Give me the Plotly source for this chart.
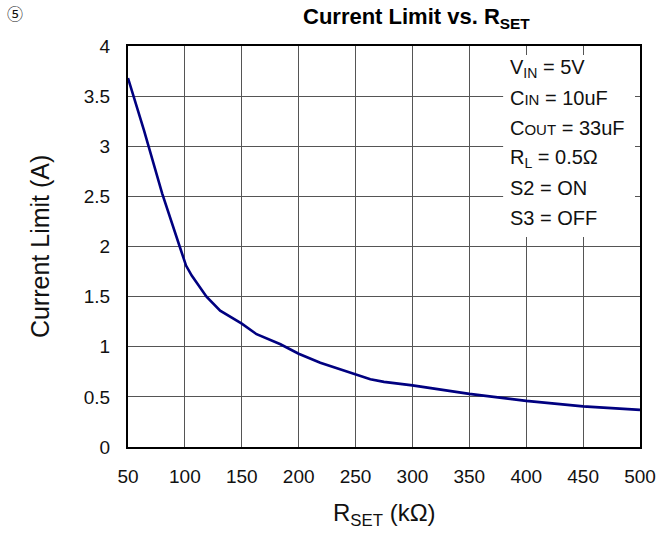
import plotly.graph_objects as go

# Current limit measured against the RSET resistor value
r_set_kohm = [50, 64, 80, 89, 96, 101, 106, 119, 131, 150, 163, 184, 200,
              219, 250, 263, 275, 300, 350, 377, 400, 450, 500]
current_limit_a = [3.68, 3.16, 2.53, 2.21, 1.98, 1.81, 1.71, 1.50, 1.36, 1.23,
                   1.125, 1.025, 0.93, 0.84, 0.72, 0.675, 0.65, 0.615, 0.53,
                   0.49, 0.46, 0.405, 0.37]

conditions = [
    "V<sub>IN</sub> = 5V",
    "C<span style='font-size:15px'>IN</span> = 10uF",
    "C<span style='font-size:15px'>OUT</span> = 33uF",
    "R<sub>L</sub> = 0.5Ω",
    "S2 = ON",
    "S3 = OFF",
]

FONT = "Arial, Liberation Sans, sans-serif"
W, H = 659, 539
L, R, T, B = 127.5, 19, 46, 92
plot_w = W - L - R
plot_h = H - T - B


def px_x(px):
    return (px - L) / plot_w


def px_y(py):
    return (H - B - py) / plot_h


fig = go.Figure()
fig.add_trace(go.Scatter(
    x=r_set_kohm, y=current_limit_a, mode="lines",
    line=dict(color="#000080", width=2.6), showlegend=False,
))

axis_common = dict(
    showgrid=True, gridcolor="#555555", gridwidth=1,
    showline=True, linecolor="black", linewidth=2, mirror=True,
    ticks="", zeroline=False, automargin=False,
    tickfont=dict(family=FONT, size=19, color="#111111"),
)

fig.update_xaxes(range=[50, 500], dtick=50, tick0=50, ticklabelstandoff=11,
                 **axis_common)
fig.update_yaxes(range=[0, 4], dtick=0.5, ticklabelstandoff=12,
                 **axis_common)

# axis titles placed as free text
fig.add_annotation(text="R<sub>SET</sub> (kΩ)", xref="paper", yref="paper",
                   x=0.5, y=px_y(514), xanchor="center", yanchor="middle",
                   showarrow=False,
                   font=dict(family=FONT, size=24, color="#111111"))
fig.add_annotation(text="Current Limit (A)", xref="paper", yref="paper",
                   x=px_x(39), y=0.5, xanchor="center", yanchor="middle",
                   textangle=-90, showarrow=False,
                   font=dict(family=FONT, size=25, color="#111111"))

# white panel behind the test conditions
fig.add_shape(type="rect", xref="paper", yref="paper",
              x0=px_x(503), x1=px_x(635), y0=px_y(237), y1=px_y(55),
              fillcolor="white", line=dict(width=0), layer="above")

for i, txt in enumerate(conditions):
    fig.add_annotation(text=txt, xref="paper", yref="paper",
                       x=px_x(508), y=px_y(68 + 30 * i),
                       xanchor="left", yanchor="middle", showarrow=False,
                       font=dict(family=FONT, size=20, color="#111111"))

fig.add_annotation(text="⑤", xref="paper", yref="paper",
                   x=px_x(14), y=px_y(13), xanchor="center", yanchor="middle",
                   showarrow=False,
                   font=dict(family="Noto Sans CJK JP, DejaVu Sans", size=16,
                             color="#111111"))

fig.add_annotation(text="<b>Current Limit vs. R<sub>SET</sub></b>",
                   xref="paper", yref="paper", x=px_x(416), y=px_y(18),
                   xanchor="center", yanchor="middle", showarrow=False,
                   font=dict(family=FONT, size=22, color="black"))

fig.update_layout(
    width=W, height=H,
    margin=dict(l=L, r=R, t=T, b=B),
    paper_bgcolor="white", plot_bgcolor="white",
)

fig.write_html("out.html")
